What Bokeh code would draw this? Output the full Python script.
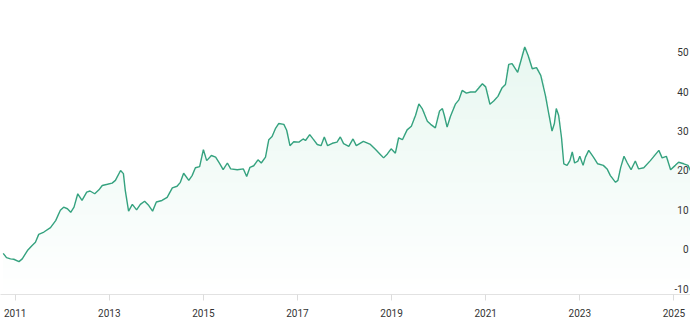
import numpy as np
from bokeh.plotting import figure
from bokeh.models import FixedTicker, ColumnDataSource
from bokeh.core.properties import value
from bokeh.embed import file_html
from bokeh.resources import INLINE

# decimal years
dates = [
    2010.745, 2010.815, 2010.90, 2010.97, 2011.08, 2011.15, 2011.26, 2011.36, 2011.43, 2011.50,
    2011.61, 2011.75, 2011.86, 2011.96, 2012.03, 2012.11, 2012.18, 2012.25, 2012.33, 2012.42,
    2012.52, 2012.59, 2012.69, 2012.78, 2012.85, 2012.96, 2013.06, 2013.13, 2013.24, 2013.30,
    2013.34, 2013.41, 2013.49, 2013.58, 2013.66, 2013.75, 2013.84, 2013.92, 2014.00, 2014.12,
    2014.23, 2014.34, 2014.44, 2014.51, 2014.58, 2014.69, 2014.76, 2014.83, 2014.92, 2015.00,
    2015.07, 2015.17, 2015.26, 2015.35, 2015.42, 2015.51, 2015.58, 2015.72, 2015.85, 2015.92,
    2015.99, 2016.07, 2016.16, 2016.23, 2016.32, 2016.39, 2016.46, 2016.53, 2016.60, 2016.71,
    2016.77, 2016.84, 2016.92, 2017.03, 2017.12, 2017.17, 2017.26, 2017.33, 2017.42, 2017.50,
    2017.57, 2017.64, 2017.74, 2017.84, 2017.91, 2017.98, 2018.09, 2018.18, 2018.25, 2018.40,
    2018.55, 2018.66, 2018.75, 2018.83, 2018.91, 2018.99, 2019.08, 2019.15, 2019.23, 2019.33,
    2019.42, 2019.51, 2019.58, 2019.65, 2019.76, 2019.83, 2019.93, 2020.02, 2020.08, 2020.12,
    2020.18, 2020.25, 2020.36, 2020.43, 2020.50, 2020.59, 2020.68, 2020.78, 2020.93, 2021.00,
    2021.09, 2021.17, 2021.26, 2021.35, 2021.42, 2021.49, 2021.56, 2021.68, 2021.75, 2021.83,
    2021.90, 2021.99, 2022.08, 2022.17, 2022.27, 2022.34, 2022.41, 2022.46, 2022.50, 2022.55,
    2022.61, 2022.66, 2022.73, 2022.79, 2022.84, 2022.89, 2022.96, 2023.00, 2023.07, 2023.12,
    2023.19, 2023.29, 2023.38, 2023.50, 2023.58, 2023.65, 2023.76, 2023.81, 2023.87, 2023.94,
    2024.01, 2024.09, 2024.18, 2024.25, 2024.36, 2024.50, 2024.68, 2024.75, 2024.84, 2024.93,
    2025.03, 2025.10, 2025.21, 2025.30, 2025.35,
]
values = [
    -1.0, -2.1, -2.4, -2.5, -3.1, -2.4, -0.3, 1.0, 1.8, 3.8,
    4.4, 5.5, 7.3, 9.9, 10.7, 10.3, 9.4, 10.7, 14.1, 12.4,
    14.5, 14.8, 14.1, 15.1, 16.2, 16.5, 16.8, 17.5, 20.0, 19.2,
    14.9, 9.7, 11.4, 10.0, 11.4, 12.2, 11.1, 9.7, 12.0, 12.4,
    13.2, 15.6, 16.0, 17.0, 19.3, 17.5, 18.7, 20.7, 21.0, 25.3,
    22.5, 23.8, 23.4, 21.7, 20.2, 21.9, 20.4, 20.2, 20.4, 18.5,
    20.8, 21.2, 22.7, 21.9, 23.4, 27.8, 28.6, 30.6, 31.9, 31.7,
    30.2, 26.3, 27.3, 27.2, 28.0, 27.6, 29.1, 28.0, 26.6, 26.3,
    28.5, 26.3, 26.9, 27.2, 28.5, 26.8, 26.1, 28.0, 26.3, 27.4,
    26.6, 25.3, 24.2, 23.2, 24.2, 25.5, 24.4, 28.3, 27.8, 30.3,
    31.2, 34.0, 36.9, 35.7, 32.5, 31.7, 30.8, 35.1, 35.7, 34.0,
    31.0, 33.7, 36.9, 37.9, 40.3, 39.6, 39.9, 39.9, 42.0, 41.2,
    36.8, 37.6, 38.8, 41.0, 41.8, 46.9, 47.1, 44.9, 47.9, 51.3,
    49.2, 45.8, 46.1, 44.1, 39.0, 34.4, 30.0, 31.9, 35.7, 34.0,
    28.5, 21.7, 21.3, 22.5, 24.7, 21.9, 22.4, 23.6, 21.3, 23.4,
    25.1, 23.4, 21.7, 21.3, 20.4, 18.7, 17.0, 17.5, 20.8, 23.6,
    21.9, 20.2, 22.4, 20.4, 20.7, 22.5, 25.1, 23.2, 23.6, 20.2,
    21.3, 22.1, 21.7, 21.3, 20.0,
]
x_ticks = [2011, 2013, 2015, 2017, 2019, 2021, 2023, 2025]
x_tick_labels = ["2011", "2013", "2015", "2017", "2019", "2021", "2023", "2025"]
y_ticks = [50, 40, 30, 20, 10, 0, -10]
y_tick_labels = ["50", "40", "30", "20", "10", "0", "-10"]

X0, X1 = 2010.6876, 2025.353
Y0, Y1 = -11.44, 63.1
LINE = "#35a27f"
FILL_TOP = (231, 247, 240)

p = figure(width=690, height=327, output_backend="svg", toolbar_location=None,
           x_range=(X0, X1), y_range=(Y0, Y1),
           min_border_left=0, min_border_right=0, min_border_top=0, min_border_bottom=33)
p.outline_line_color = None
p.background_fill_color = "white"
p.border_fill_color = "white"
p.grid.visible = False
p.yaxis.visible = False

xa = p.xaxis[0]
xa.ticker = FixedTicker(ticks=x_ticks)
xa.major_label_overrides = {t: l for t, l in zip(x_ticks, x_tick_labels)}
xa.axis_line_color = "#e2e2e2"
xa.major_tick_line_color = "#dcdcdc"
xa.major_tick_in = 0
xa.major_tick_out = 6
xa.minor_tick_line_color = None
xa.major_label_standoff = 8
xa.major_label_text_font = "Roboto"
xa.major_label_text_font_size = "10px"
xa.major_label_text_color = "#333333"

# vertical gradient fill under the line: opaque layers, each from its level up to the line
v = np.array(values)
levels = np.linspace(Y0, 52, 48)
for L in levels:
    t = (L - Y0) / (52 - Y0)
    c = tuple(int(round(255 + (ch - 255) * t)) for ch in FILL_TOP)
    top = np.maximum(v, L)
    p.varea(x=dates, y1=[L] * len(dates), y2=top, fill_color="#%02x%02x%02x" % c, fill_alpha=1.0)

# y tick labels inside the frame at the right edge
ysrc = ColumnDataSource(dict(x=[X1] * len(y_ticks), y=y_ticks, t=y_tick_labels))
p.text(x="x", y="y", text="t", source=ysrc, text_align="right", text_baseline="middle",
       x_offset=-2, text_font=value("Roboto"), text_font_size="10px", text_color="#333333")

p.line(dates, values, line_color=LINE, line_width=1.4)

open("out.html", "w").write(file_html(p, INLINE))
